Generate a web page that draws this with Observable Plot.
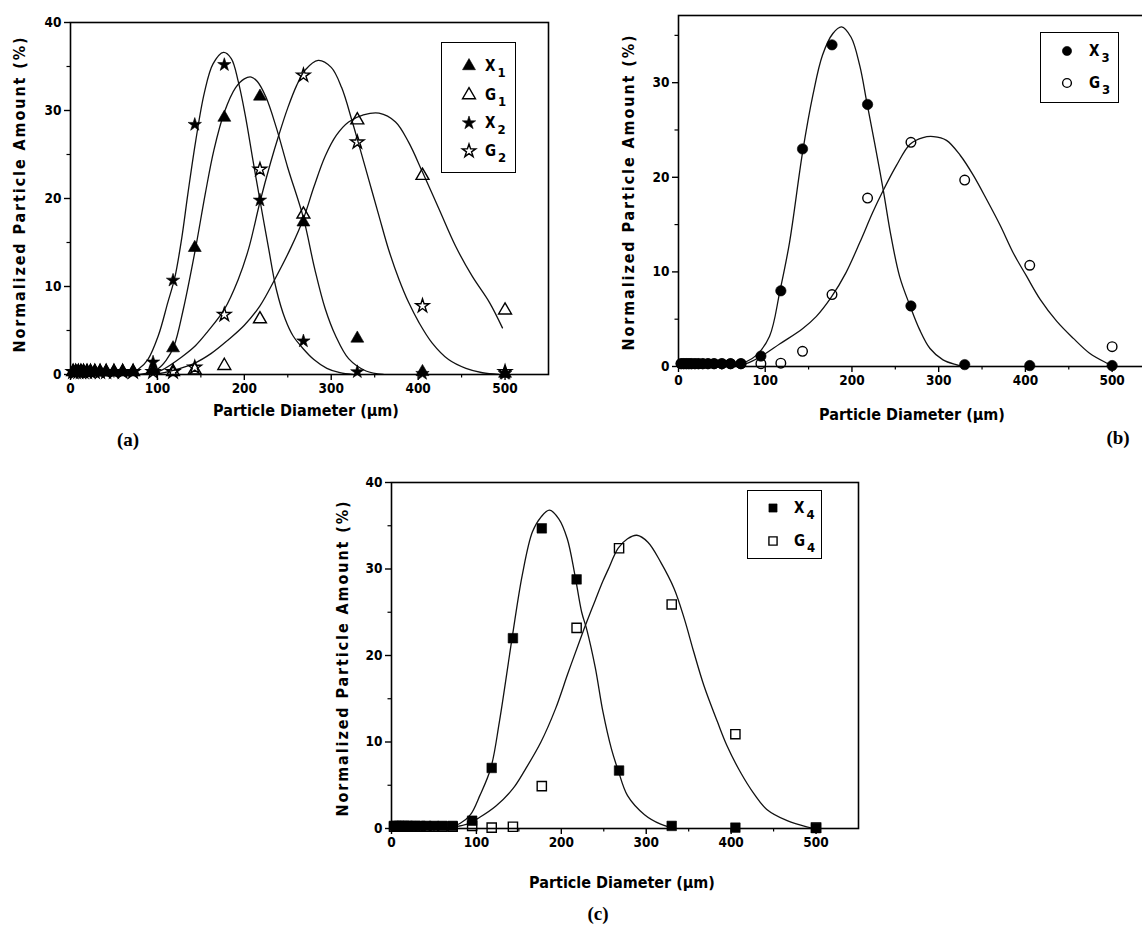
<!DOCTYPE html>
<html>
<head>
<meta charset="utf-8">
<script src="https://cdn.jsdelivr.net/npm/d3@7"></script>
<script src="https://cdn.jsdelivr.net/npm/@observablehq/plot@0.6"></script>
<style>
html,body{margin:0;padding:0;background:#fff;overflow:hidden;}
#root{position:relative;width:1142px;height:930px;overflow:hidden;background:#fff;}
.panel{position:absolute;overflow:visible;}
.panel svg{max-width:none !important;}
.panel svg text{font-family:"DejaVu Sans Condensed","DejaVu Sans",sans-serif !important;font-size:13.5px !important;font-weight:bold !important;fill:#000;}
.ttl{position:absolute;font-family:"DejaVu Sans Condensed","DejaVu Sans",sans-serif;font-weight:bold;font-size:16px;white-space:nowrap;color:#000;transform:translate(-50%,-50%);}
.ttl.rot{transform:translate(-50%,-50%) rotate(-90deg);letter-spacing:1.9px;}
.lbl{position:absolute;font-family:"Liberation Serif","DejaVu Serif",serif;font-weight:bold;font-size:19px;transform:translate(-50%,-50%);white-space:nowrap;}
.legend{position:absolute;border:1.6px solid #000;background:#fff;box-sizing:border-box;}
.legend svg{position:absolute;overflow:visible;}
.lt{position:absolute;font-family:"DejaVu Sans Condensed","DejaVu Sans",sans-serif;font-weight:bold;font-size:15px;line-height:15px;transform:translateY(-50%);white-space:nowrap;}
.lt .sub{font-size:13px;position:relative;top:6px;margin-left:2px;}
</style>
</head>
<body>
<div id="root"></div>
<script>
// ---------- data ----------
const sizes = [3,6,9,12,15,19,23,28,34,41,50,60,72,95,118,143,177,218,268,330,405,500];

// panel (a)
const x1A = [0.3,0.3,0.3,0.3,0.3,0.3,0.3,0.3,0.3,0.3,0.3,0.3,0.3,0.5,3.0,14.4,29.2,31.6,17.3,4.1,0.3,0.1];
const g1A = [0.3,0.3,0.3,0.3,0.3,0.3,0.3,0.3,0.3,0.3,0.3,0.3,0.3,0.6,0.3,0.5,1.0,6.3,18.2,28.9,22.6,7.3];
const x2A = [0.3,0.3,0.3,0.3,0.3,0.3,0.3,0.3,0.3,0.3,0.3,0.3,0.3,1.4,10.7,28.4,35.2,19.8,3.8,0.3,0.1,0.1];
const g2A = [0.3,0.3,0.3,0.3,0.3,0.3,0.3,0.3,0.3,0.3,0.3,0.3,0.3,0.3,0.3,0.8,6.8,23.3,34.0,26.4,7.8,0.3];

const fitX2A_x = [60,70,78,89,101,112,120,128,135,144,154,164,176,185,193,201,210,218,228,237,247,256,268,280,295,310,325];
const fitX2A_y = [0,0.2,0.6,1.7,4.4,8.2,11.0,15.5,20.5,26.5,32.0,35.3,36.6,35.9,33.3,29.5,24.3,19.8,14.3,9.6,6.3,4.4,2.9,1.7,0.7,0.2,0];
const fitX1A_x = [80,100,110,119,130,144,155,165,177,190,200,208,215,225,237,250,268,281,293,305,320,340,360];
const fitX1A_y = [0,0.6,1.6,3.2,7.5,14.4,20.5,25.5,29.8,32.6,33.6,33.8,33.3,31.5,28.0,23.5,17.8,12.0,7.5,4.4,1.8,0.4,0];
const fitG2A_x = [90,105,128,144,158,177,193,205,218,230,240,250,260,270,285,300,312,324,331,343,355,366,378,389,401,416,435,455,474,493];
const fitG2A_y = [0,0.5,2.0,3.3,4.9,7.4,10.8,14.3,19.6,24.0,27.3,30.3,32.8,34.6,35.7,34.9,32.6,28.8,26.4,22.2,18.0,14.2,10.8,8.2,5.9,3.6,1.7,0.7,0.2,0];
const fitG1A_x = [97,116,143,162,181,200,218,235,254,268,280,293,306,320,337,355,374,389,405,424,443,462,482,497];
const fitG1A_y = [0,0.4,1.3,2.4,3.9,5.6,7.8,10.8,14.5,17.7,21.3,24.8,27.2,28.7,29.5,29.7,28.7,26.4,23.0,18.8,14.6,11.2,8.2,5.3];

// panel (b)
const x3B = [0.3,0.3,0.3,0.3,0.3,0.3,0.3,0.3,0.3,0.3,0.3,0.3,0.3,1.1,8.0,23.0,34.0,27.7,6.4,0.2,0.1,0.1];
const g3B = [0.3,0.3,0.3,0.3,0.3,0.3,0.3,0.3,0.3,0.3,0.3,0.3,0.3,0.3,0.35,1.6,7.6,17.8,23.7,19.7,10.7,2.1];
const fitX3B_x = [63,78,90,105,117,128,143,155,166,178,188,199,209,217,226,236,245,255,267,278,290,305,320,330];
const fitX3B_y = [0,0.5,1.2,3.2,8.0,13.1,22.6,28.7,32.9,35.2,35.9,34.8,31.8,28.0,23.7,18.7,13.8,9.5,6.4,3.9,1.9,0.7,0.2,0];
const fitG3B_x = [60,78,94,117,143,159,176,193,209,224,236,251,267,282,294,309,325,340,355,371,386,401,417,436,455,474,494,500];
const fitG3B_y = [0,0.3,1.0,2.4,4.0,5.3,7.3,9.9,13.1,16.3,18.6,21.2,23.5,24.2,24.3,23.9,22.3,20.2,17.7,14.9,12.0,9.6,7.1,4.8,3.0,1.4,0.35,0.1];

// panel (c)
const x4C = [0.3,0.3,0.3,0.3,0.3,0.3,0.3,0.3,0.3,0.3,0.3,0.3,0.3,0.9,7.0,22.0,34.7,28.8,6.7,0.3,0.1,0.05];
const g4C = [0.2,0.2,0.2,0.2,0.2,0.2,0.2,0.2,0.2,0.2,0.2,0.2,0.2,0.3,0.1,0.2,4.9,23.2,32.4,25.9,10.9,0.1];
const fitX4C_x = [65,81,93,104,117,127,142,154,166,176,186,197,207,216,224,230,240,249,259,267,278,298,317,333];
const fitX4C_y = [0,0.6,1.6,3.8,7.0,12.3,22.0,29.3,34.3,36.0,36.8,35.8,33.5,29.3,25.0,23.0,18.6,13.5,9.2,6.7,3.8,1.6,0.5,0];
const fitG4C_x = [58,89,104,123,143,158,176,193,208,222,230,240,249,255,267,278,289,302,317,333,345,356,368,384,395,411,427,442,466,489,500];
const fitG4C_y = [0,0.5,1.3,2.6,4.6,6.9,10.0,13.8,18.0,21.8,23.9,26.4,28.6,29.9,32.4,33.5,33.9,33.1,30.8,27.7,24.2,20.4,16.5,12.3,9.6,6.5,4.0,2.2,0.9,0.2,0];

// axes
const xTicks = [0,100,200,300,400,500];
const xMinor = [50,150,250,350,450,550];
const yTicks = [0,10,20,30,40];
const yMinor = [5,15,25,35];

// ---------- drawing ----------
const FONT = '"DejaVu Sans Condensed","DejaVu Sans",sans-serif';
const root = document.getElementById("root");
const axisText = {fontSize: 13.5, fontWeight: "bold", fontFamily: FONT};

function makePanel(cfg) {
  const marks = [];
  for (const f of cfg.fits) {
    marks.push(Plot.line(f.x.map((x, i) => ({x, y: f.y[i]})),
      {x: "x", y: "y", curve: "catmull-rom", stroke: "#111", strokeWidth: 1.3, clip: true}));
  }
  for (const s of cfg.series) {
    marks.push(Plot.dot(sizes.map((x, i) => ({x, y: s.y[i]})),
      {x: "x", y: "y", symbol: s.symbol, r: s.r, fill: s.filled ? "#000" : "none",
       stroke: "#000", strokeWidth: s.filled ? 0.6 : 1.4}));
  }
  marks.push(Plot.frame({stroke: "#000", strokeWidth: 1.6}));
  marks.push(Plot.axisX({ticks: xTicks, tickSize: 6, tickPadding: 3, tickFormat: d => d, label: null, strokeWidth: 1.4, ...axisText}));
  marks.push(Plot.axisX({ticks: xMinor.filter(v => v < cfg.xMax), tickSize: 3.5, tickFormat: () => "", label: null, strokeWidth: 1.2}));
  marks.push(Plot.axisY({ticks: yTicks.filter(v => v <= cfg.yMax), tickSize: 6, tickPadding: 3, tickFormat: d => d, label: null, strokeWidth: 1.4, ...axisText}));
  marks.push(Plot.axisY({ticks: yMinor.filter(v => v <= cfg.yMax), tickSize: 3.5, tickFormat: () => "", label: null, strokeWidth: 1.2}));
  const chart = Plot.plot({
    width: cfg.width, height: cfg.height,
    marginLeft: cfg.mL, marginRight: cfg.mR, marginTop: cfg.mT, marginBottom: cfg.mB,
    x: {domain: [0, cfg.xMax]},
    y: {domain: [0, cfg.yMax]},
    style: {fontFamily: FONT, fontSize: "13.5px", fontWeight: "bold", color: "#000", background: "transparent", overflow: "visible", maxWidth: "none"},
    marks
  });
  const wrap = document.createElement("div");
  wrap.className = "panel";
  wrap.style.left = cfg.left + "px";
  wrap.style.top = cfg.top + "px";
  wrap.style.width = cfg.width + "px";
  wrap.style.height = cfg.height + "px";
  wrap.appendChild(chart);
  root.appendChild(wrap);
}

function addText(cls, txt, cx, cy) {
  const d = document.createElement("div");
  d.className = cls;
  d.textContent = txt;
  d.style.left = cx + "px";
  d.style.top = cy + "px";
  root.appendChild(d);
}

function addLegend(box, rows) {
  const d = document.createElement("div");
  d.className = "legend";
  d.style.left = box.x + "px"; d.style.top = box.y + "px";
  d.style.width = box.w + "px"; d.style.height = box.h + "px";
  for (const r of rows) {
    const svg = d3.create("svg").attr("width", 1).attr("height", 1)
      .style("left", box.mx + "px").style("top", r.y + "px");
    svg.append("path")
      .attr("d", d3.symbol(r.symbol, Math.PI * r.r * r.r)())
      .attr("fill", r.filled ? "#000" : "none")
      .attr("stroke", "#000")
      .attr("stroke-width", r.filled ? 0.6 : 1.4);
    d.appendChild(svg.node());
    const t = document.createElement("div");
    t.className = "lt";
    t.style.left = box.tx + "px";
    t.style.top = r.y + "px";
    t.innerHTML = r.name + '<span class="sub">' + r.sub + '</span>';
    d.appendChild(t);
  }
  root.appendChild(d);
}

// panel (a)
makePanel({
  left: 0, top: 0, width: 560, height: 420, mL: 70, mR: 12, mT: 22, mB: 46,
  xMax: 550, yMax: 40,
  fits: [{x: fitX2A_x, y: fitX2A_y}, {x: fitX1A_x, y: fitX1A_y}, {x: fitG2A_x, y: fitG2A_y}, {x: fitG1A_x, y: fitG1A_y}],
  series: [
    {y: g1A, symbol: "triangle", r: 4.8, filled: false},
    {y: g2A, symbol: "star", r: 4.2, filled: false},
    {y: x1A, symbol: "triangle", r: 4.8, filled: true},
    {y: x2A, symbol: "star", r: 4.2, filled: true}
  ]
});
// panel (b)
makePanel({
  left: 600, top: 0, width: 560, height: 420, mL: 78, mR: 5, mT: 15, mB: 54,
  xMax: 550, yMax: 37.1,
  fits: [{x: fitX3B_x, y: fitX3B_y}, {x: fitG3B_x, y: fitG3B_y}],
  series: [
    {y: g3B, symbol: "circle", r: 4.8, filled: false},
    {y: x3B, symbol: "circle", r: 5.2, filled: true}
  ]
});
// panel (c)
makePanel({
  left: 300, top: 440, width: 570, height: 440, mL: 91, mR: 12, mT: 42, mB: 52,
  xMax: 550, yMax: 40,
  fits: [{x: fitX4C_x, y: fitX4C_y}, {x: fitG4C_x, y: fitG4C_y}],
  series: [
    {y: g4C, symbol: "square", r: 5.2, filled: false},
    {y: x4C, symbol: "square", r: 5.4, filled: true}
  ]
});

// axis titles
const xTitle = "Particle Diameter (\u03bcm)";
const yTitle = "Normalized Particle Amount (%)";
addText("ttl", xTitle, 306, 410);
addText("ttl rot", yTitle, 19, 194);
addText("ttl", xTitle, 912, 414);
addText("ttl rot", yTitle, 628, 192);
addText("ttl", xTitle, 622, 882);
addText("ttl rot", yTitle, 342, 658);

// panel labels
addText("lbl", "(a)", 128, 440);
addText("lbl", "(b)", 1118, 438);
addText("lbl", "(c)", 598, 914);

// legends
addLegend({x: 441, y: 42, w: 75, h: 131, mx: 27, tx: 43}, [
  {y: 23, symbol: d3.symbolTriangle, r: 4.8, filled: true, name: "X", sub: "1"},
  {y: 52, symbol: d3.symbolTriangle, r: 4.8, filled: false, name: "G", sub: "1"},
  {y: 80, symbol: d3.symbolStar, r: 4.2, filled: true, name: "X", sub: "2"},
  {y: 108, symbol: d3.symbolStar, r: 4.2, filled: false, name: "G", sub: "2"}
]);
addLegend({x: 1040, y: 32, w: 79, h: 71, mx: 26, tx: 48}, [
  {y: 18, symbol: d3.symbolCircle, r: 4.6, filled: true, name: "X", sub: "3"},
  {y: 50, symbol: d3.symbolCircle, r: 4.4, filled: false, name: "G", sub: "3"}
]);
addLegend({x: 747, y: 490, w: 75, h: 69, mx: 25, tx: 46}, [
  {y: 17, symbol: d3.symbolSquare, r: 4.6, filled: true, name: "X", sub: "4"},
  {y: 50, symbol: d3.symbolSquare, r: 4.6, filled: false, name: "G", sub: "4"}
]);
</script>
</body>
</html>
